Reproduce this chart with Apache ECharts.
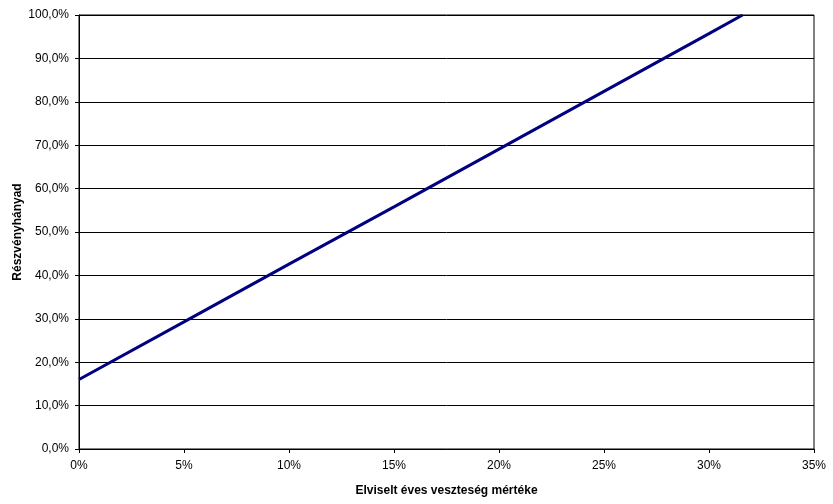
<!DOCTYPE html>
<html><head><meta charset="utf-8">
<script src="https://cdn.jsdelivr.net/npm/echarts@6/dist/echarts.min.js"></script>
<style>html,body{margin:0;padding:0;background:#fff}#c{width:833px;height:504px}</style>
</head><body><div id="c"></div>
<script>
const xValues = [0, 5, 10, 15, 20, 25, 30, 31.6];
const yValues = [16.0, 29.3, 42.6, 55.8, 69.1, 82.4, 95.7, 100.0];
const xTickLabels = ['0%','5%','10%','15%','20%','25%','30%','35%'];
const xAxisName = 'Elviselt éves veszteség mértéke';
const yAxisName = 'Részvényhányad';

const chart = echarts.init(document.getElementById('c'), null, {renderer:'canvas'});
const font = 'Liberation Sans, Arial, sans-serif';
chart.setOption({
  animation: false,
  backgroundColor: '#fff',
  grid: {left: 79, top: 15, right: 19, bottom: 55, show: true, borderColor: '#000', borderWidth: 1,
         containLabel: false, outerBoundsMode: 'none'},
  xAxis: {
    type: 'value', min: 0, max: 35, interval: 5,
    name: xAxisName, nameLocation: 'middle', nameGap: 36, nameMoveOverlap: false,
    nameTextStyle: {fontFamily: font, fontSize: 12, fontWeight: 'bold', color: '#000'},
    axisLine: {lineStyle: {color: '#000', width: 1}},
    axisTick: {show: true, length: 4, inside: false, lineStyle: {color: '#000'}},
    axisLabel: {fontFamily: font, fontSize: 12, color: '#000', margin: 11,
      formatter: v => xTickLabels[Math.round(v/5)]},
    splitLine: {show: false}
  },
  yAxis: {
    type: 'value', min: 0, max: 100, interval: 10,
    name: yAxisName, nameLocation: 'middle', nameGap: 55, nameRotate: 90, nameMoveOverlap: false,
    nameTextStyle: {fontFamily: font, fontSize: 12, fontWeight: 'bold', color: '#000'},
    axisLine: {show: true, lineStyle: {color: '#000', width: 1}},
    axisTick: {show: true, length: 4, inside: false, lineStyle: {color: '#000'}},
    axisLabel: {fontFamily: font, fontSize: 12, color: '#000', margin: 10,
      formatter: v => v.toFixed(1).replace('.', ',') + '%'},
    splitLine: {show: true, lineStyle: {color: '#000', width: 1}}
  },
  series: [{
    type: 'line',
    data: xValues.map((x, i) => [x, yValues[i]]),
    showSymbol: false, symbol: 'none',
    lineStyle: {color: '#000080', width: 3},
    clip: true
  }]
});
</script></body></html>
